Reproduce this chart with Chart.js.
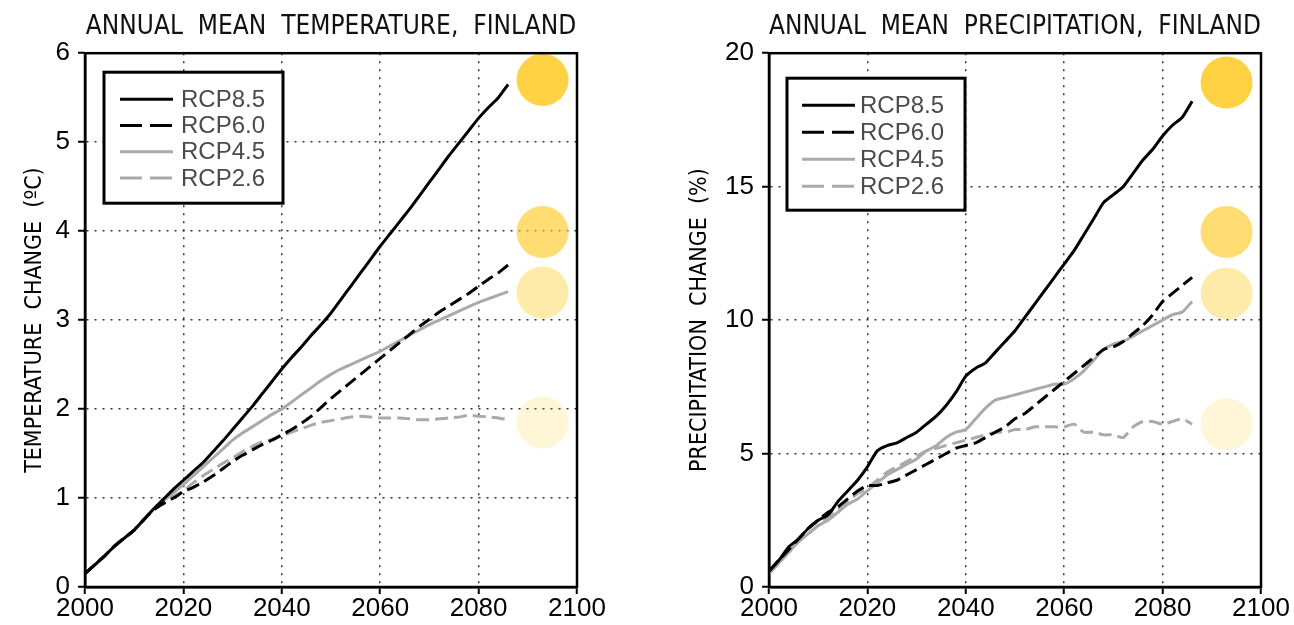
<!DOCTYPE html>
<html lang="en">
<head>
<meta charset="UTF-8">
<title>Annual mean temperature and precipitation, Finland</title>
<script src="https://cdn.jsdelivr.net/npm/chart.js"></script>
<style>
  body { margin: 0; padding: 0; background: #fff; }
  .panel { position: absolute; top: 0; }
  #left { left: 0; width: 640px; height: 625px; }
  #right { left: 640px; width: 654px; height: 625px; }
</style>
</head>
<body>
<div class="panel" id="left"><canvas id="tempChart" width="640" height="625"></canvas></div>
<div class="panel" id="right"><canvas id="precChart" width="654" height="625"></canvas></div>
<script>
// years of the model curves (every 2nd year)
const years = [2000, 2002, 2004, 2006, 2008, 2010, 2012, 2014, 2016, 2018,
               2020, 2022, 2024, 2026, 2028, 2030, 2032, 2034, 2036, 2038,
               2040, 2042, 2044, 2046, 2048, 2050, 2052, 2054, 2056, 2058,
               2060, 2062, 2064, 2066, 2068, 2070, 2072, 2074, 2076, 2078,
               2080, 2082, 2084, 2086];
const scenarios = ['RCP8.5', 'RCP6.0', 'RCP4.5', 'RCP2.6'];

// temperature change (deg C)
const temp85 = [0.15, 0.25, 0.35, 0.46, 0.55, 0.64, 0.76, 0.88, 0.99, 1.10,
                1.20, 1.30, 1.40, 1.52, 1.64, 1.77, 1.90, 2.03, 2.17, 2.31,
                2.45, 2.58, 2.70, 2.83, 2.95, 3.08, 3.23, 3.38, 3.53, 3.68,
                3.83, 3.97, 4.11, 4.25, 4.40, 4.55, 4.70, 4.85, 4.99, 5.13,
                5.27, 5.39, 5.50, 5.65];
const temp60 = [0.15, 0.25, 0.35, 0.46, 0.55, 0.64, 0.76, 0.87, 0.94, 1.00,
                1.07, 1.12, 1.18, 1.25, 1.33, 1.41, 1.48, 1.54, 1.60, 1.65,
                1.71, 1.77, 1.84, 1.92, 2.02, 2.12, 2.21, 2.30, 2.39, 2.48,
                2.57, 2.66, 2.75, 2.84, 2.93, 3.01, 3.09, 3.16, 3.23, 3.30,
                3.38, 3.46, 3.53, 3.62];
const temp45 = [0.15, 0.25, 0.35, 0.46, 0.55, 0.64, 0.76, 0.88, 0.97, 1.06,
                1.15, 1.25, 1.35, 1.45, 1.55, 1.65, 1.73, 1.80, 1.87, 1.94,
                2.00, 2.08, 2.16, 2.24, 2.32, 2.39, 2.45, 2.50, 2.55, 2.60,
                2.65, 2.71, 2.77, 2.83, 2.89, 2.95, 3.00, 3.05, 3.10, 3.15,
                3.20, 3.24, 3.28, 3.32];
const temp26 = [0.15, 0.25, 0.35, 0.46, 0.55, 0.64, 0.76, 0.87, 0.95, 1.02,
                1.08, 1.17, 1.25, 1.32, 1.39, 1.45, 1.52, 1.58, 1.63, 1.66,
                1.70, 1.74, 1.78, 1.82, 1.85, 1.87, 1.89, 1.91, 1.92, 1.91,
                1.90, 1.90, 1.90, 1.89, 1.88, 1.88, 1.89, 1.90, 1.91, 1.93,
                1.92, 1.91, 1.90, 1.88];

// precipitation change (%)
const prec85 = [0.6, 1.0, 1.5, 1.8, 2.2, 2.5, 2.7, 3.2, 3.6, 4.0,
                4.5, 5.1, 5.3, 5.4, 5.6, 5.8, 6.1, 6.4, 6.8, 7.3,
                7.9, 8.2, 8.4, 8.8, 9.2, 9.6, 10.1, 10.6, 11.1, 11.6,
                12.1, 12.6, 13.2, 13.8, 14.4, 14.7, 15.0, 15.5, 16.0, 16.4,
                16.9, 17.3, 17.6, 18.2];
const prec60 = [0.6, 1.0, 1.4, 1.8, 2.2, 2.5, 2.8, 3.0, 3.3, 3.6,
                3.8, 3.8, 3.9, 4.0, 4.2, 4.4, 4.6, 4.8, 5.0, 5.2,
                5.3, 5.4, 5.6, 5.8, 6.0, 6.3, 6.5, 6.8, 7.1, 7.4,
                7.7, 8.0, 8.3, 8.6, 8.9, 9.0, 9.2, 9.5, 9.8, 10.2,
                10.7, 11.0, 11.3, 11.6];
const prec45 = [0.5, 0.9, 1.3, 1.7, 2.0, 2.3, 2.5, 2.8, 3.1, 3.3,
                3.6, 3.9, 4.2, 4.4, 4.6, 4.8, 5.1, 5.3, 5.6, 5.8,
                5.9, 6.3, 6.7, 7.0, 7.1, 7.2, 7.3, 7.4, 7.5, 7.6,
                7.6, 7.8, 8.1, 8.5, 8.9, 9.1, 9.2, 9.4, 9.6, 9.8,
                10.0, 10.2, 10.3, 10.7];
const prec26 = [0.5, 0.9, 1.3, 1.7, 2.0, 2.3, 2.6, 2.9, 3.2, 3.5,
                3.7, 4.0, 4.3, 4.5, 4.7, 4.9, 5.1, 5.2, 5.3, 5.4,
                5.5, 5.6, 5.7, 5.8, 5.8, 5.9, 5.9, 6.0, 6.0, 6.0,
                6.0, 6.1, 5.8, 5.8, 5.7, 5.7, 5.6, 6.0, 6.2, 6.2,
                6.1, 6.2, 6.3, 6.1];

// end-of-century markers
const circleYear = 2093;
const tempCircles = [5.70, 3.99, 3.31, 1.85];
const precCircles = [18.9, 13.3, 11.0, 6.1];

const NARROW = '"Liberation Sans Narrow", "DejaVu Sans Condensed", "Arial Narrow", sans-serif';
const SANS = '"Liberation Sans", Arial, sans-serif';
const GREY = '#aaaaaa';
const circleColors = ['rgba(255,204,41,0.88)', 'rgba(255,204,41,0.66)',
                      'rgba(255,204,41,0.40)', 'rgba(255,204,41,0.18)'];

function points(values) {
  return years.map((yr, i) => ({ x: yr, y: values[i] }));
}

function lineDatasets(series) {
  const styles = [
    { color: '#000', dash: [] },
    { color: '#000', dash: [13, 6] },
    { color: GREY, dash: [] },
    { color: GREY, dash: [13, 6] },
  ];
  return series.map((vals, i) => ({
    type: 'line',
    label: scenarios[i],
    data: points(vals),
    borderColor: styles[i].color,
    borderDash: styles[i].dash,
    borderWidth: 3,
    pointRadius: 0,
    tension: 0.2,
    inLegend: true,
  }));
}

// black frame round the plot area
const frame = {
  id: 'frame',
  afterDatasetsDraw(chart) {
    const { ctx, chartArea: a } = chart;
    ctx.save();
    ctx.lineWidth = 2.5;
    ctx.strokeStyle = '#000';
    ctx.strokeRect(a.left, a.top, a.right - a.left, a.bottom - a.top);
    ctx.restore();
  }
};

// legend in a framed white box
const boxLegend = {
  id: 'boxLegend',
  afterDraw(chart, args, opts) {
    const { ctx, chartArea } = chart;
    const x = chartArea.left + opts.x;
    const y = chartArea.top + opts.y;
    ctx.save();
    ctx.fillStyle = '#fff';
    ctx.fillRect(x, y, opts.width, opts.height);
    ctx.lineWidth = 3;
    ctx.strokeStyle = '#000';
    ctx.strokeRect(x, y, opts.width, opts.height);
    ctx.font = opts.font;
    ctx.textBaseline = 'middle';
    chart.data.datasets.filter(d => d.inLegend).forEach((ds, i) => {
      const rowY = y + opts.firstRow + i * opts.rowGap;
      ctx.beginPath();
      ctx.setLineDash(ds.borderDash.length ? [22, 8] : []);
      ctx.lineWidth = 3;
      ctx.strokeStyle = ds.borderColor;
      ctx.moveTo(x + opts.lineX, rowY);
      ctx.lineTo(x + opts.lineX + opts.lineLen, rowY);
      ctx.stroke();
      ctx.setLineDash([]);
      ctx.fillStyle = '#4a4a4a';
      ctx.fillText(ds.label, x + opts.textX, rowY + 1);
    });
    ctx.restore();
  }
};

function makeChart(canvasId, cfg) {
  const ctx = document.getElementById(canvasId).getContext('2d');
  return new Chart(ctx, {
    type: 'line',
    data: {
      datasets: [
        ...lineDatasets(cfg.series),
        {
          type: 'scatter',
          data: cfg.circles.map(v => ({ x: circleYear, y: v })),
          pointRadius: 26,
          pointHoverRadius: 26,
          pointBackgroundColor: circleColors,
          pointBorderWidth: 0,
          borderWidth: 0,
          clip: false,
        },
      ],
    },
    options: {
      responsive: false,
      animation: false,
      events: [],
      layout: { padding: { left: 0, right: cfg.padRight, top: 0, bottom: 0 } },
      plugins: {
        legend: { display: false },
        tooltip: { enabled: false },
        title: {
          display: true,
          text: cfg.title,
          fullSize: false,
          color: '#111',
          font: { family: NARROW, size: 26, weight: 'normal' },
          padding: { top: 12, bottom: 10 },
        },
        boxLegend: cfg.legend,
      },
      scales: {
        x: {
          type: 'linear',
          min: 2000,
          max: 2100,
          ticks: {
            stepSize: 20,
            color: '#000',
            padding: 2,
            maxRotation: 0,
            font: { family: SANS, size: 26, lineHeight: 1 },
            callback: v => String(v),
          },
          grid: { color: '#333', lineWidth: 1.5, tickLength: 7, tickColor: '#000', tickWidth: 2 },
          border: { display: true, color: '#000', width: 2.5, dash: [2, 6] },
          afterFit: s => { s.height = 38; },
        },
        y: {
          min: 0,
          max: cfg.yMax,
          ticks: {
            stepSize: cfg.yStep,
            color: '#000',
            padding: 8,
            font: { family: SANS, size: 26, lineHeight: 1 },
          },
          grid: { color: '#333', lineWidth: 1.5, tickLength: 7, tickColor: '#000', tickWidth: 2 },
          border: { display: true, color: '#000', width: 2.5, dash: [2, 6] },
          title: {
            display: true,
            text: cfg.yTitle,
            color: '#000',
            font: { family: NARROW, size: 23, weight: 'normal' },
            padding: { top: cfg.yTitlePad, bottom: 0 },
          },
          afterFit: s => { s.width = cfg.yWidth; },
        },
      },
    },
    plugins: [frame, boxLegend],
  });
}

makeChart('tempChart', {
  title: 'ANNUAL  MEAN  TEMPERATURE,  FINLAND',
  yTitle: 'TEMPERATURE  CHANGE  (ºC)',
  series: [temp85, temp60, temp45, temp26],
  circles: tempCircles,
  yMax: 6,
  yStep: 1,
  yWidth: 85,
  yTitlePad: 21,
  padRight: 63,
  legend: { x: 19, y: 19, width: 179, height: 131, firstRow: 27, rowGap: 26.3,
            lineX: 16, lineLen: 53, textX: 77, font: '24px ' + SANS },
});

makeChart('precChart', {
  title: 'ANNUAL  MEAN  PRECIPITATION,  FINLAND',
  yTitle: 'PRECIPITATION  CHANGE  (%)',
  series: [prec85, prec60, prec45, prec26],
  circles: precCircles,
  yMax: 20,
  yStep: 5,
  yWidth: 129,
  yTitlePad: 46,
  padRight: 33,
  legend: { x: 18, y: 25, width: 178, height: 132, firstRow: 27, rowGap: 27,
            lineX: 15, lineLen: 53, textX: 73, font: '24px ' + SANS },
});
</script>
</body>
</html>
